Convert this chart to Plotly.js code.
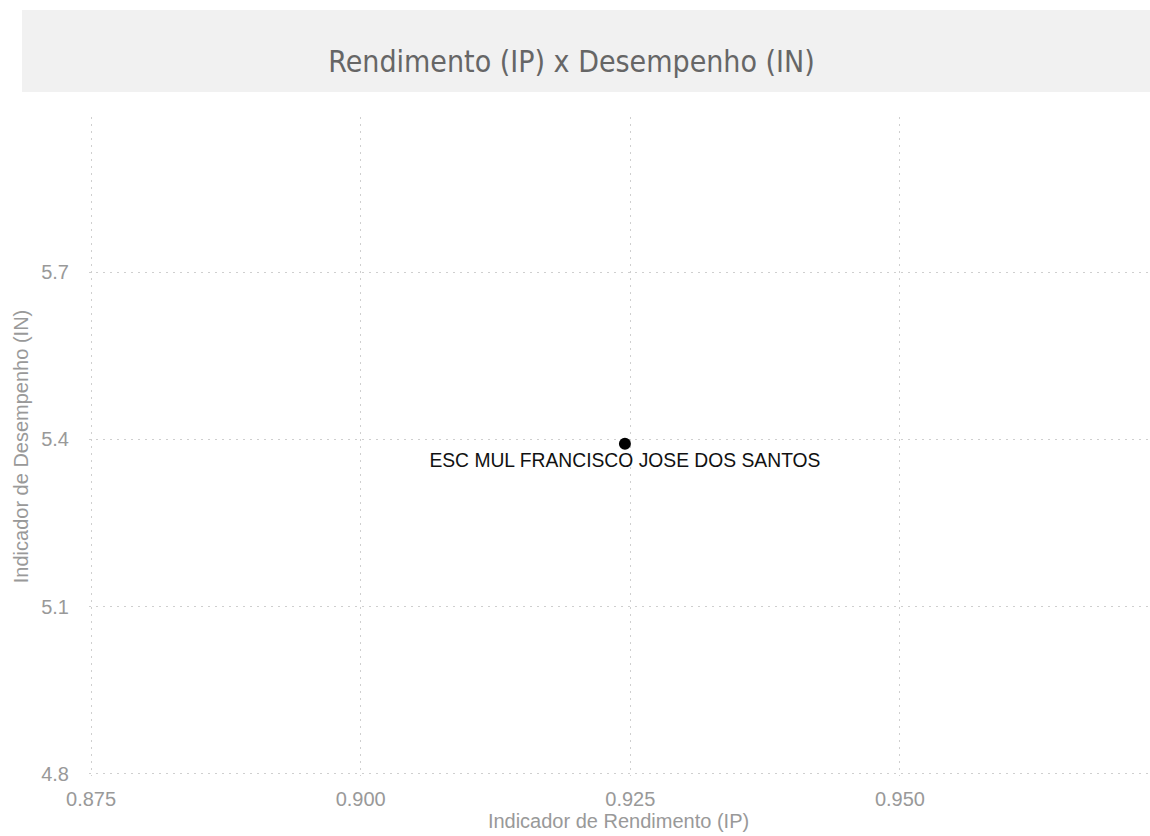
<!DOCTYPE html>
<html>
<head>
<meta charset="utf-8">
<script src="https://cdn.plot.ly/plotly-3.0.1.min.js"></script>
<style>
html,body{margin:0;padding:0;background:#fff;}
#chart{width:1150px;height:836px;}
</style>
</head>
<body>
<div id="chart"></div>
<script>
const schools = ["ESC MUL FRANCISCO JOSE DOS SANTOS"];
const rendimentoIP = [0.9245];
const desempenhoIN = [5.392];
const xTicks = [0.875, 0.900, 0.925, 0.950];
const xTickLabels = ["0.875", "0.900", "0.925", "0.950"];
const yTicks = [4.8, 5.1, 5.4, 5.7];
const yTickLabels = ["4.8", "5.1", "5.4", "5.7"];

const trace = {
  type: 'scatter',
  mode: 'markers+text',
  x: rendimentoIP,
  y: desempenhoIN,
  text: schools,
  textposition: 'bottom center',
  textfont: {family: 'Liberation Sans, Arial, sans-serif', size: 19.3, color: '#111'},
  marker: {color: '#000', size: 12},
  hoverinfo: 'none',
  showlegend: false
};

const layout = {
  width: 1150,
  height: 836,
  margin: {l: 89, r: 2, t: 117, b: 60},
  paper_bgcolor: '#fff',
  plot_bgcolor: '#fff',
  font: {family: 'Liberation Sans, Arial, sans-serif', color: '#999'},
  title: {
    text: 'Rendimento (IP) x Desempenho (IN)',
    font: {family: 'Liberation Sans Narrow, DejaVu Sans Condensed, Arial, sans-serif', size: 30, color: '#666'},
    xref: 'container', x: 0.497, xanchor: 'center',
    yref: 'container', y: 0.926, yanchor: 'middle'
  },
  shapes: [{
    type: 'rect', xref: 'paper', yref: 'paper',
    x0: -67 / 1059, x1: 1.002,
    y0: 1 + (117 - 92) / 659, y1: 1 + (117 - 10) / 659,
    fillcolor: '#f1f1f1', line: {width: 0}, layer: 'below'
  }],
  xaxis: {
    range: [0.87481, 0.973],
    tickvals: xTicks,
    ticktext: xTickLabels,
    showgrid: true,
    gridcolor: '#cfcfcf',
    griddash: '2px,5px',
    gridwidth: 1,
    zeroline: false,
    showline: false,
    ticks: '',
    ticklabelstandoff: 9,
    tickfont: {size: 20, color: '#999'},
    title: {text: 'Indicador de Rendimento (IP)', font: {size: 20, color: '#999'}, standoff: 4}
  },
  yaxis: {
    range: [4.7964, 5.978],
    tickvals: yTicks,
    ticktext: yTickLabels,
    showgrid: true,
    gridcolor: '#cfcfcf',
    griddash: '2px,5px',
    gridwidth: 1,
    zeroline: false,
    showline: false,
    ticks: '',
    ticklabelstandoff: 19,
    tickfont: {size: 20, color: '#999'},
    title: {text: 'Indicador de Desempenho (IN)', font: {size: 20, color: '#999'}, standoff: 7}
  }
};

Plotly.newPlot('chart', [trace], layout, {displayModeBar: false, staticPlot: true});
</script>
</body>
</html>
